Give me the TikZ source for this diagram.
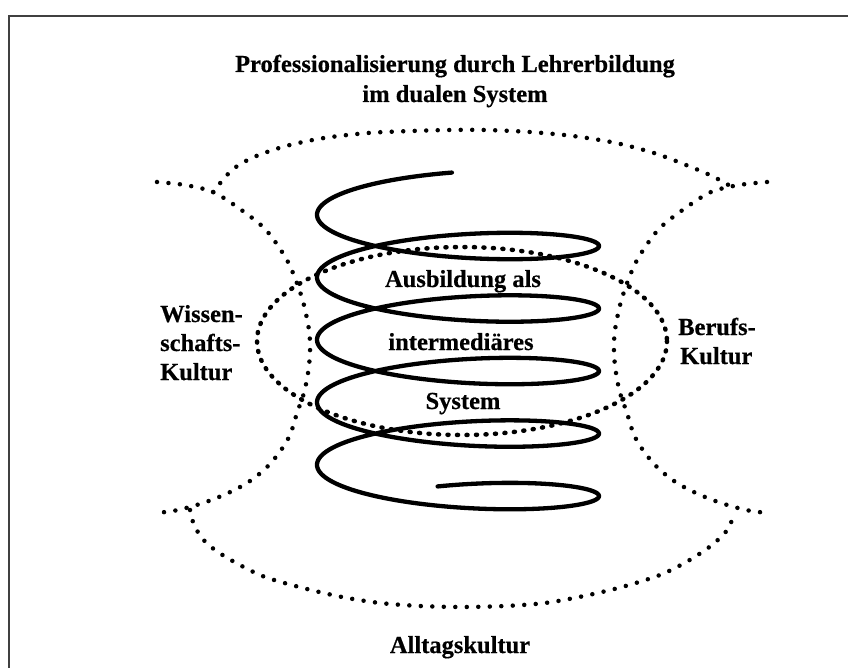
\documentclass[tikz,border=0pt]{standalone}
\usepackage{fontspec}
\setmainfont{Liberation Serif}[FakeBold=0.5]
\begin{document}
\begin{tikzpicture}[x=1pt,y=-1pt,
  lab/.style={font=\fontsize{24.5}{29}\selectfont\bfseries, inner sep=0pt, anchor=base},
  labl/.style={lab, anchor=base west},
  dotline/.style={line width=4.5pt, line cap=round, dash pattern=on 0pt off 11.5pt},
  innerdots/.style={line width=4.5pt, line cap=round, dash pattern=on 1pt off 8.5pt},
  spring/.style={line width=4.3pt, line cap=round, line join=round},
  frameline/.style={line width=1.6pt, draw=black!75}]

\useasboundingbox (0,0) rectangle (848,668);
\fill[white] (0,0) rectangle (848,668);
\draw[frameline] (9,668) -- (9,16) -- (848,16);

% titles and labels
\node[lab] (t1) at (455,72) {Professionalisierung durch Lehrerbildung};
\node[lab] (t2) at (455,102) {im dualen System};
\node[lab] (a1) at (463,287) {Ausbildung als};
\node[lab] (a2) at (461,350) {intermediäres};
\node[lab] (a3) at (463,409) {System};
\node[labl] (w1) at (160,322) {Wissen-};
\node[labl] (w2) at (160,351) {schafts-};
\node[labl] (w3) at (160,380) {Kultur};
\node[labl] (b1) at (678,335) {Berufs-};
\node[labl] (b2) at (680,364) {Kultur};
\node[lab] (al) at (460,653) {Alltagskultur};

% top arc
\draw[dotline] plot[smooth] coordinates {(213,192) (232,170) (254,157) (286,146) (324,138) (368,133) (411,131) (449,130) (486,130) (530,132) (573,136) (616,143) (654,153) (686,165) (712,176) (732,187)};
% bottom arc
\draw[dotline] plot[smooth] coordinates {(190,510) (193,522) (201,537) (215,550) (238,564) (265,577) (303,588) (342,597) (380,603) (420,606) (462,607) (505,606) (545,603) (584,596) (622,587) (660,575) (688,561) (712,545) (728,529) (734,513)};
% left curve
\draw[dotline] plot[smooth] coordinates {(157,182) (185,185) (213,192) (240,209) (266,230) (288,262) (302,298) (309,330) (310,353) (308,373) (304,393) (297,413) (290,435) (279,453) (265,469) (247,483) (226,494) (203,503) (178,510) (157,513)};
% right curve
\draw[dotline] plot[smooth] coordinates {(767,182) (739,185) (711,192) (684,209) (658,230) (636,262) (622,298) (615,330) (614,353) (616,373) (620,393) (627,413) (634,435) (645,453) (659,469) (677,483) (698,494) (721,503) (746,510) (767,513)};

% inner ellipse
\draw[innerdots] (462,341) ellipse [x radius=205, y radius=94];

% spring
\draw[spring] plot[domain=-4.669:26.85, samples=700, variable=\t]
  ({458+141*cos(\t r)}, {246+9.95*\t-27*sin(\t r)});
\end{tikzpicture}
\end{document}
